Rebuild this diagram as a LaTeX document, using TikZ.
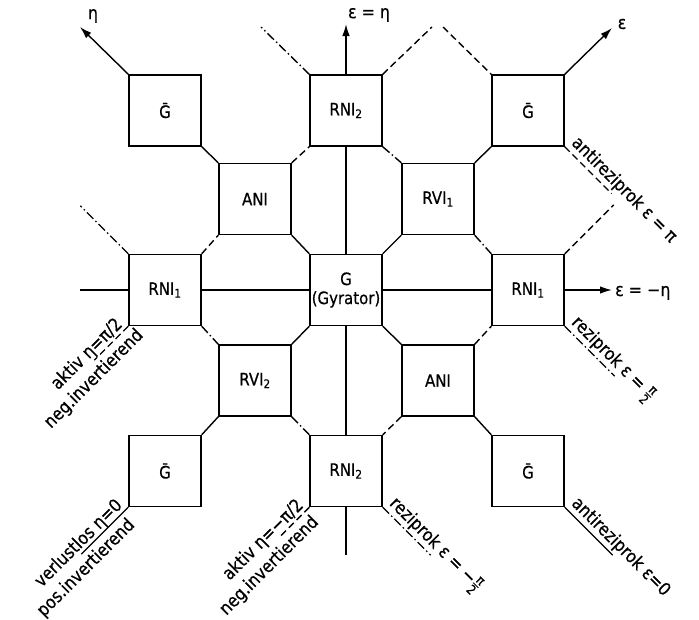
\documentclass[tikz,border=0pt]{standalone}
\usepackage{amsmath}
\usepackage{fontspec}
\setmainfont{DejaVu Sans}[FakeStretch=0.88, FakeBold=0.6]
\usetikzlibrary{arrows.meta,calc}
\newcommand\myfrac[2]{$\genfrac{}{}{0.9pt}{}{\mbox{\fontsize{13}{13}\selectfont #1}}{\mbox{\fontsize{13}{13}\selectfont #2}}$}
\begin{document}
\begin{tikzpicture}[x=1pt,y=-1pt,
  box/.style={draw, line width=1.4pt, minimum width=72pt, minimum height=71pt, inner sep=0pt, font=\fontsize{17}{19}\selectfont, align=center},
  ln/.style={line width=1.4pt},
  dsh/.style={line width=1.4pt, dash pattern=on 7pt off 4pt},
  dd/.style={line width=1.4pt, dash pattern=on 9pt off 3pt on 1.5pt off 3pt},
  arr/.style={line width=1.4pt, -{Latex[length=12pt,width=7.5pt]}},
  lbl/.style={font=\fontsize{18}{20}\selectfont, inner sep=0pt},
]
\path[use as bounding box] (0,0) rectangle (699,619);
% boxes
\node[box] (g1)  at (165,110.5) {\={G}};
\node[box] (r2t) at (346,110.5) {RNI\textsubscript{2}};
\node[box] (g2)  at (528,110.5) {\={G}};
\node[box] (a1)  at (255,199) {ANI};
\node[box] (v1)  at (438,199) {RVI\textsubscript{1}};
\node[box] (r1l) at (165,290) {RNI\textsubscript{1}};
\node[box] (g)   at (346,290) {G\\(Gyrator)};
\node[box] (r1r) at (528,290) {RNI\textsubscript{1}};
\node[box] (v2)  at (255,380.5) {RVI\textsubscript{2}};
\node[box] (a2)  at (438,380.5) {ANI};
\node[box] (g3)  at (165,471) {\={G}};
\node[box] (r2b) at (346,471) {RNI\textsubscript{2}};
\node[box] (g4)  at (528,471) {\={G}};
% inner connectors
\draw[ln]  (g1.south east) -- (a1.north west);
\draw[dsh] (a1.north east) -- (r2t.south west);
\draw[dd]  (r2t.south east) -- (v1.north west);
\draw[ln]  (v1.north east) -- (g2.south west);
\draw[ln]  (r2t.south) -- (g.north);
\draw[dsh] (r1l.north east) -- (a1.south west);
\draw[ln]  (a1.south east) -- (g.north west);
\draw[ln]  (g.north east) -- (v1.south west);
\draw[dd]  (v1.south east) -- (r1r.north west);
\draw[ln]  (r1l.east) -- (g.west);
\draw[ln]  (g.east) -- (r1r.west);
\draw[dd]  (r1l.south east) -- (v2.north west);
\draw[ln]  (g.south west) -- (v2.north east);
\draw[ln]  (g.south east) -- (a2.north west);
\draw[dsh] (a2.north east) -- (r1r.south west);
\draw[ln]  (v2.south west) -- (g3.north east);
\draw[dd]  (v2.south east) -- (r2b.north west);
\draw[dsh] (a2.south west) -- (r2b.north east);
\draw[ln]  (a2.south east) -- (g4.north west);
\draw[ln]  (g.south) -- (r2b.north);
% free ends
\coordinate (eta) at (80,27);
\coordinate (epseta) at (346,24);
\coordinate (eps) at (612,28);
\coordinate (epsmeta) at (612,290);
\coordinate (tl1) at (261,27);
\coordinate (tr1) at (432,27);
\coordinate (tr2) at (443,27);
\coordinate (rt1) at ($(g2.south east)+(47,47)$);
\coordinate (rt2) at ($(r1r.north east)+(49,-49)$);
\coordinate (rt3) at ($(r1r.south east)+(50,50)$);
\coordinate (rb1) at ($(r2b.south east)+(48,48)$);
\coordinate (rb2) at ($(g4.south east)+(48,48)$);
\coordinate (lb1) at ($(r2b.south west)+(-31,31)$);
\coordinate (bot) at (346,555);
\coordinate (lb2) at ($(g3.south west)+(-47,47)$);
\coordinate (lm1) at ($(r1l.south west)+(-34,34)$);
\coordinate (lm2) at (80,290);
\coordinate (lt1) at ($(r1l.north west)+(-48,-48)$);
% outer lines
\draw[arr] (g1.north west) -- (eta);
\draw[arr] (r2t.north) -- (epseta);
\draw[arr] (g2.north east) -- (eps);
\draw[arr] (r1r.east) -- (epsmeta);
\draw[dd]  (r2t.north west) -- (tl1);
\draw[dsh] (r2t.north east) -- (tr1);
\draw[dsh] (tr2) -- (g2.north west);
\draw[dsh] (g2.south east) -- (rt1);
\draw[dsh] (r1r.north east) -- (rt2);
\draw[dd]  (r1r.south east) -- (rt3);
\draw[dd]  (r2b.south east) -- (rb1);
\draw[ln]  (g4.south east) -- (rb2);
\draw[dsh] (r2b.south west) -- (lb1);
\draw[ln]  (r2b.south) -- (bot);
\draw[ln]  (g3.south west) -- (lb2);
\draw[dsh] (r1l.south west) -- (lm1);
\draw[ln]  (r1l.west) -- (lm2);
\draw[dd]  (r1l.north west) -- (lt1);
% labels
\node[lbl] (leta) at (93,16) {η};
\node[lbl] (lepseta) at (369,15) {ε = η};
\node[lbl] (leps) at (622,24) {ε};
\node[lbl, anchor=base west] (lepsm) at (615,296) {ε = −η};
\node[lbl, rotate=-45, anchor=base west] (l1) at ($(g2.south east)+(6,-3)$) {antireziprok ε = π};
\node[lbl, rotate=-45, anchor=base west] (l2) at ($(r1r.south east)+(6,-3)$) {reziprok ε = \myfrac{π}{2}};
\node[lbl, rotate=-45, anchor=base west] (l3) at ($(r2b.south east)+(6,-3)$) {reziprok ε = −\myfrac{π}{2}};
\node[lbl, rotate=-45, anchor=base west] (l4) at ($(g4.south east)+(6,-3)$) {antireziprok ε=0};
\node[lbl, rotate=45, anchor=base east] (l5a) at ($(r1l.south west)+(-5,-1)$) {aktiv η=π/2};
\node[lbl, rotate=45, anchor=north east] (l5b) at ($(r1l.south west)+(6,0)$) {neg.invertierend};
\node[lbl, rotate=45, anchor=base east] (l6a) at ($(g3.south west)+(-5,-1)$) {verlustlos η=0};
\node[lbl, rotate=45, anchor=north east] (l6b) at ($(g3.south west)+(-2.5,8.7)$) {pos.invertierend};
\node[lbl, rotate=45, anchor=base east] (l7a) at ($(r2b.south west)+(-5,-1)$) {aktiv η=−π/2};
\node[lbl, rotate=45, anchor=north east] (l7b) at ($(r2b.south west)+(0.3,5.9)$) {neg.invertierend};
\end{tikzpicture}
\end{document}
